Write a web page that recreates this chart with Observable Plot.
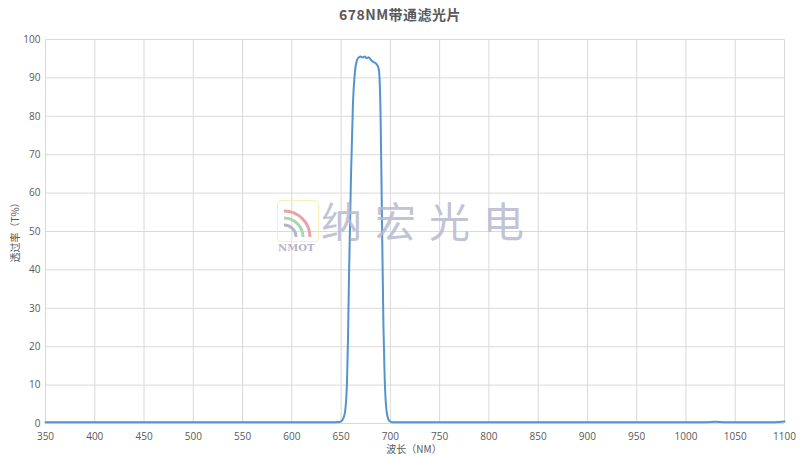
<!DOCTYPE html>
<html><head><meta charset="utf-8">
<script src="https://cdn.jsdelivr.net/npm/d3@7"></script>
<script src="https://cdn.jsdelivr.net/npm/@observablehq/plot@0.6"></script>
<style>
body{margin:0;background:#fff;font-family:"Noto Sans CJK SC","Noto Sans",sans-serif;}
#wrap{position:relative;width:800px;height:456px;overflow:hidden;}
#title{position:absolute;left:0;top:4px;width:800px;text-align:center;font-size:14px;font-weight:bold;color:#595959;letter-spacing:0.5px;}
#ylab{position:absolute;left:14px;top:230px;transform:translate(-50%,-50%) rotate(-90deg);font-size:10px;color:#595959;white-space:nowrap;}
#xlab{position:absolute;left:414px;top:441px;transform:translateX(-50%);font-size:10px;color:#595959;white-space:nowrap;}
#wm{position:absolute;left:321px;top:199px;font-size:41px;color:#b9b9cf;letter-spacing:13px;opacity:0.85;white-space:nowrap;line-height:1;font-family:"Noto Sans CJK SC",serif;}
#logo{position:absolute;left:277px;top:200px;width:40px;height:40px;border:1.5px solid #f6f1b8;border-radius:4px;}
#nmot{position:absolute;left:278px;top:242px;font-size:10px;color:#b5b5c8;font-weight:bold;font-family:"DejaVu Serif",serif;}
svg{position:absolute;left:0;top:0;}
</style></head>
<body><div id="wrap"><div id="title">678NM带通滤光片</div><div id="ylab">透过率（T%）</div><div id="xlab">波长（NM）</div><div id="logo"><svg width="40" height="40" style="position:absolute;left:0;top:0"><path d="M6 10 A26 26 0 0 1 32 36" fill="none" stroke="#e8a3a8" stroke-width="3"/><path d="M6 17 A19 19 0 0 1 25 36" fill="none" stroke="#a9d8b0" stroke-width="3"/><path d="M6 24 A12 12 0 0 1 18 36" fill="none" stroke="#b3b6c8" stroke-width="3"/></svg></div><div id="nmot">NMOT</div><div id="wm">纳宏光电</div></div>
<script>
const wavelength = [350,400,450,500,550,600,640,648,650,652,654,656,657,658,660,662,664,666,668,670,672,674,676,678,680,682,684,686,688,689,690,691,692,693,694,695,696,698,700,702,710,750,800,850,900,950,1000,1020,1030,1040,1050,1090,1100];
const transmission = [0.3,0.3,0.3,0.3,0.3,0.3,0.3,0.4,0.6,1.2,3,11,22,38,64,83,91.5,94.5,95.4,95.6,95.3,95.6,95.1,95.4,94.8,94.3,94.0,93.6,92.5,90,81,63,43,25,14,7,3.6,1.1,0.5,0.3,0.3,0.3,0.3,0.3,0.3,0.3,0.3,0.3,0.45,0.3,0.3,0.35,0.5];
const xTicks = d3.range(350,1101,50);
const yTicks = d3.range(0,101,10);
const data = wavelength.map((w,i)=>({w, t: transmission[i]}));
const chart = Plot.plot({
  width: 800, height: 456,
  marginLeft: 45, marginRight: 16, marginTop: 39, marginBottom: 33,
  style: {fontSize: "10px", color: "#595959", background: "transparent", fontFamily: "'Open Sans','Noto Sans',sans-serif"},
  x: {domain: [350,1100], ticks: xTicks, tickSize: 0, tickPadding: 9, tickFormat: "d", label: null},
  y: {domain: [0,100], ticks: yTicks, tickSize: 0, tickPadding: 5, label: null},
  marks: [
    Plot.gridX(xTicks, {stroke: "#d9d9d9", strokeOpacity: 1}),
    Plot.gridY(yTicks, {stroke: "#d9d9d9", strokeOpacity: 1}),
    Plot.line(data, {x: "w", y: "t", stroke: "#5393cf", strokeWidth: 2, curve: "monotone-x"})
  ]
});
document.getElementById("wrap").prepend(chart);
</script></body></html>
